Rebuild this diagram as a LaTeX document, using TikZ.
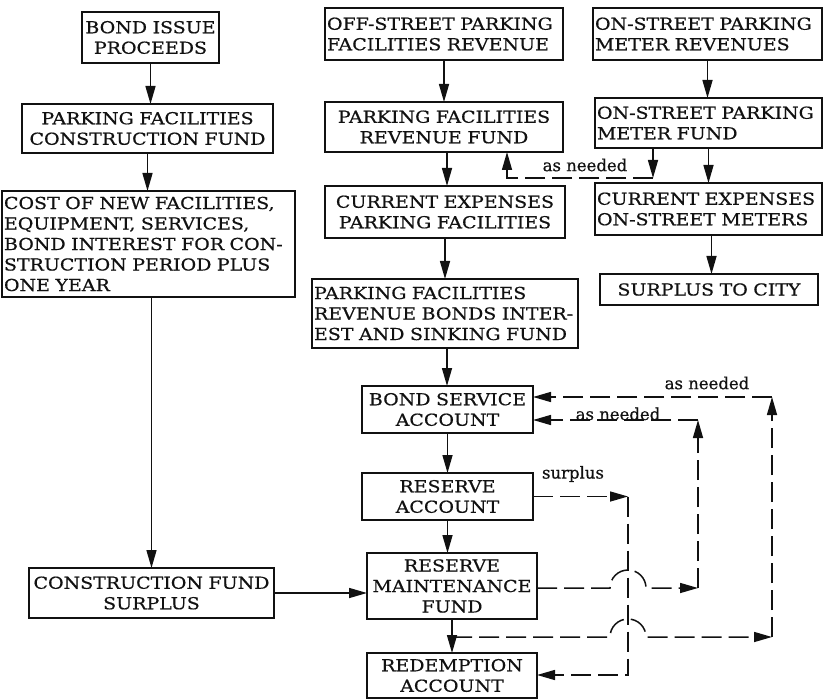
\documentclass[tikz,border=0pt]{standalone}
\usepackage{fontspec}
\setmainfont{DejaVu Serif}[FakeStretch=1.15,FakeBold=0.6]
\newfontfamily\notefont{DejaVu Serif}[FakeBold=0.6]
\usepackage{tikz}
\usetikzlibrary{arrows.meta,positioning}
\definecolor{PrintInk}{HTML}{111111}

\begin{document}
\begin{tikzpicture}[x=1pt,y=-1pt,
  fund/.style={rectangle,draw=PrintInk,line width=1.5pt,inner xsep=2pt,inner ysep=3pt,outer sep=0pt,align=center,text=PrintInk,font=\fontsize{16.5}{20.5}\selectfont},
  note/.style={inner sep=1pt,text=PrintInk,font=\notefont\fontsize{16.5}{20.5}\selectfont},
  flow/.style={-{Triangle[length=18pt,width=10pt]},draw=PrintInk,line width=1.5pt},
  needline/.style={draw=PrintInk,line width=1.5pt,dash pattern=on 20pt off 7pt},
  needflow/.style={needline,-{Triangle[length=18pt,width=10pt]}}
]
\useasboundingbox (0,0) rectangle (824,700);
% construction side
\node[fund,text width=133pt,minimum height=51pt] (proceeds) at (150.5,37.5) {BOND ISSUE\\PROCEEDS};
\node[fund,text width=247pt,minimum height=49pt,below=41pt of proceeds,xshift=-3pt] (cfund) {PARKING FACILITIES\\CONSTRUCTION FUND};
\node[fund,align=left,text width=289pt,minimum height=106pt,below=38pt of cfund,xshift=1pt] (costs) {COST OF NEW FACILITIES,\\EQUIPMENT, SERVICES,\\BOND INTEREST FOR CON-\\STRUCTION PERIOD PLUS\\ONE YEAR};
\node[fund,text width=241pt,minimum height=50pt,below=271pt of costs,xshift=3pt] (cfsurplus) {CONSTRUCTION FUND\\SURPLUS};
% off-street revenue side
\node[fund,align=left,text width=234pt,minimum height=52pt] (offrev) at (444,34) {OFF-STREET PARKING\\FACILITIES REVENUE};
\node[fund,text width=234pt,minimum height=50pt,below=42pt of offrev] (revfund) {PARKING FACILITIES\\REVENUE FUND};
\node[fund,text width=236pt,minimum height=52pt,below=34pt of revfund,xshift=1pt] (offexp) {CURRENT EXPENSES\\PARKING FACILITIES};
\node[fund,align=left,text width=262pt,minimum height=69pt,below=41pt of offexp] (sinking) {PARKING FACILITIES\\REVENUE BONDS INTER-\\EST AND SINKING FUND};
\node[fund,text width=167pt,minimum height=47pt,below=38pt of sinking,xshift=2.5pt] (bondsvc) {BOND SERVICE\\ACCOUNT};
\node[fund,text width=167pt,minimum height=47pt,below=40pt of bondsvc] (reserve) {RESERVE\\ACCOUNT};
\node[fund,text width=166pt,minimum height=66pt,below=33pt of reserve,xshift=4.5pt] (maint) {RESERVE\\MAINTENANCE\\FUND};
\node[fund,text width=166pt,minimum height=45pt,below=34pt of maint] (redeem) {REDEMPTION\\ACCOUNT};
% on-street meter side
\node[fund,align=left,text width=225pt,minimum height=52pt] (onrev) at (707.5,34) {ON-STREET PARKING\\METER REVENUES};
\node[fund,align=left,text width=223pt,minimum height=50pt,below=38pt of onrev,xshift=1pt] (meterfund) {ON-STREET PARKING\\METER FUND};
\node[fund,align=left,text width=223pt,minimum height=52pt,below=35pt of meterfund] (onexp) {CURRENT EXPENSES\\ON-STREET METERS};
\node[fund,text width=214pt,minimum height=31pt,below=39pt of onexp,xshift=0.5pt] (citysurplus) {SURPLUS TO CITY};

\coordinate (needtap) at (653,178);
\coordinate (needret) at (507,178);
\coordinate (outtop) at (772,397);
\coordinate (outbot) at (772,637);
\coordinate (intop) at (698,420);
\coordinate (inbot) at (698,588);
\coordinate (surtop) at (628,495);
\coordinate (surbot) at (628,675);

% main flows
\draw[flow] (proceeds.south) -- (proceeds.south |- cfund.north);
\draw[flow] (cfund.south) -- (cfund.south |- costs.north);
\draw[flow] (cfsurplus.north |- costs.south) -- (cfsurplus.north);
\draw[flow] (cfsurplus.east) -- (cfsurplus.east -| maint.west);
\draw[flow] (offrev.south) -- (offrev.south |- revfund.north);
\draw[flow] ([xshift=3pt]revfund.south) -- ([xshift=3pt]revfund.south |- offexp.north);
\draw[flow] (offexp.south) -- (offexp.south |- sinking.north);
\draw[flow] ([xshift=2pt]sinking.south) -- ([xshift=2pt]sinking.south |- bondsvc.north);
\draw[flow] (bondsvc.south) -- (bondsvc.south |- reserve.north);
\draw[flow] (reserve.south) -- (reserve.south |- maint.north);
\draw[flow] (maint.south) -- (maint.south |- redeem.north);
\draw[flow] (onrev.south) -- (onrev.south |- meterfund.north);
\draw[flow] (meterfund.south) -- (meterfund.south |- onexp.north);
\draw[flow] ([xshift=3pt]onexp.south) -- ([xshift=3pt]onexp.south |- citysurplus.north);

% as needed flows
\draw[flow] (meterfund.south -| needtap) -- (needtap);
\draw[needflow] (needtap) -- (needret) -- (needret |- revfund.south);
\node[note] (needlbl) at (585,165) {as needed};

\draw[needflow] (outtop) -- (outtop -| bondsvc.east);
\node[note] (outlbl) at (707,383) {as needed};
\draw[needflow] (outbot) -- (outtop);
\draw[needflow] (maint.south |- outbot) -- ([xshift=-18pt]surtop |- outbot) arc[start angle=180,end angle=360,radius=18] -- (outbot);

\draw[needflow] (intop) -- (intop -| bondsvc.east);
\node[note,anchor=base] (inlbl) at (618,420) {as needed};
\draw[needflow] (inbot) -- (intop);
\draw[needflow] (maint.east |- inbot) -- ([xshift=-18pt]surtop |- inbot) arc[start angle=180,end angle=360,radius=18] -- (inbot);

% surplus to redemption
\draw[needflow] (reserve.east) -- (reserve.east -| surtop);
\node[note] (surlbl) at (573,474) {surplus};
\draw[needflow] (reserve.east -| surtop) -- (surbot) -- (surbot -| redeem.east);
\end{tikzpicture}
\end{document}
